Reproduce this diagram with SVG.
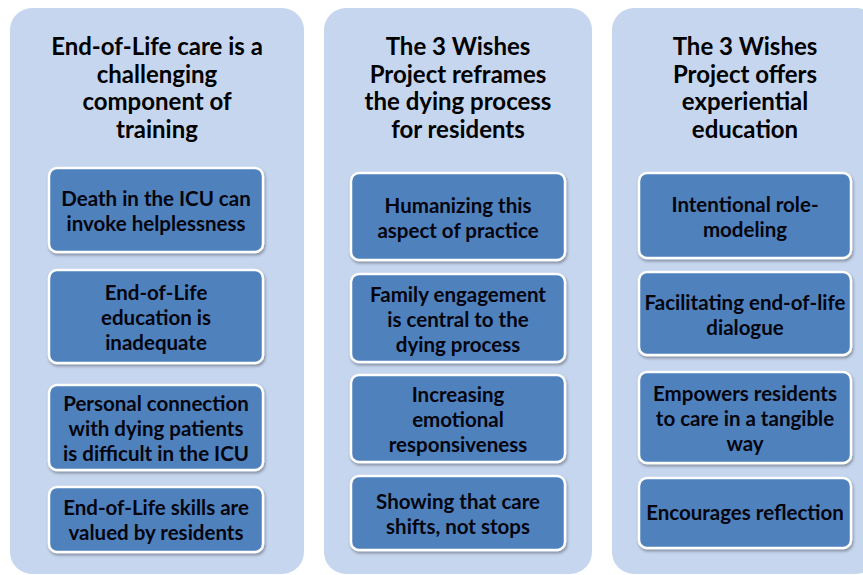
<svg xmlns="http://www.w3.org/2000/svg" width="863" height="575" viewBox="0 0 863 575">
<defs>
<filter id="sh" x="-10%" y="-10%" width="120%" height="130%">
<feDropShadow dx="1" dy="2" stdDeviation="1.5" flood-color="#000" flood-opacity="0.35"/>
</filter>
<style>
.col{fill:#C6D6EE}
.box{fill:#4F81BD;stroke:#fff;stroke-width:2.5;filter:url(#sh)}
.hd{font-family:Lato,"Open Sans","Liberation Sans",sans-serif;font-weight:bold;font-size:24px;fill:#000;text-anchor:middle}
.bt{font-family:Lato,"Open Sans","Liberation Sans",sans-serif;font-weight:bold;font-size:20.5px;fill:#05050f;text-anchor:middle}
</style>
</defs>
<rect width="863" height="575" fill="#fff"/>
<g id="col1">
<rect class="col" x="10" y="8" width="294" height="566" rx="22"/>
<text class="hd" x="157"><tspan x="157" y="55">End-of-Life care is a</tspan><tspan x="157" y="82.5">challenging</tspan><tspan x="157" y="110">component of</tspan><tspan x="157" y="137.5">training</tspan></text>
</g>
<g id="col2">
<rect class="col" x="324" y="8" width="268" height="566" rx="22"/>
<text class="hd" x="458"><tspan x="458" y="55">The 3 Wishes</tspan><tspan x="458" y="82.5">Project reframes</tspan><tspan x="458" y="110">the dying process</tspan><tspan x="458" y="137.5">for residents</tspan></text>
</g>
<g id="col3">
<rect class="col" x="612" y="8" width="266" height="566" rx="22"/>
<text class="hd" x="745"><tspan x="745" y="55">The 3 Wishes</tspan><tspan x="745" y="82.5">Project offers</tspan><tspan x="745" y="110">experiential</tspan><tspan x="745" y="137.5">education</tspan></text>
</g>
<g id="c1b1"><rect class="box" x="49" y="168" width="214" height="84" rx="8"/>
<text class="bt"><tspan x="156" y="206">Death in the ICU can</tspan><tspan x="156" y="231">invoke helplessness</tspan></text></g>
<g id="c1b2"><rect class="box" x="49" y="270" width="214" height="93" rx="8"/>
<text class="bt"><tspan x="156" y="299.5">End-of-Life</tspan><tspan x="156" y="324.5">education is</tspan><tspan x="156" y="349.5">inadequate</tspan></text></g>
<g id="c1b3"><rect class="box" x="49" y="385" width="214" height="85" rx="8"/>
<text class="bt"><tspan x="156" y="410.5">Personal connection</tspan><tspan x="156" y="435.5">with dying patients</tspan><tspan x="156" y="460.5">is difficult in the ICU</tspan></text></g>
<g id="c1b4"><rect class="box" x="49" y="487" width="214" height="65" rx="8"/>
<text class="bt"><tspan x="156" y="515">End-of-Life skills are</tspan><tspan x="156" y="540">valued by residents</tspan></text></g>
<g id="c2b1"><rect class="box" x="351" y="173" width="214" height="87" rx="8"/>
<text class="bt"><tspan x="458" y="212.5">Humanizing this</tspan><tspan x="458" y="237.5">aspect of practice</tspan></text></g>
<g id="c2b2"><rect class="box" x="351" y="274" width="214" height="88" rx="8"/>
<text class="bt"><tspan x="458" y="301.5">Family engagement</tspan><tspan x="458" y="326.5">is central to the</tspan><tspan x="458" y="351.5">dying process</tspan></text></g>
<g id="c2b3"><rect class="box" x="351" y="375" width="214" height="87" rx="8"/>
<text class="bt"><tspan x="458" y="402">Increasing</tspan><tspan x="458" y="427">emotional</tspan><tspan x="458" y="452">responsiveness</tspan></text></g>
<g id="c2b4"><rect class="box" x="351" y="476" width="214" height="74" rx="8"/>
<text class="bt"><tspan x="458" y="508.5">Showing that care</tspan><tspan x="458" y="533.5">shifts, not stops</tspan></text></g>
<g id="c3b1"><rect class="box" x="639" y="173" width="212" height="85" rx="8"/>
<text class="bt"><tspan x="745" y="211.5">Intentional role-</tspan><tspan x="745" y="236.5">modeling</tspan></text></g>
<g id="c3b2"><rect class="box" x="639" y="272" width="212" height="83" rx="8"/>
<text class="bt"><tspan x="745" y="309.5">Facilitating end-of-life</tspan><tspan x="745" y="334.5">dialogue</tspan></text></g>
<g id="c3b3"><rect class="box" x="639" y="372" width="212" height="91" rx="8"/>
<text class="bt"><tspan x="745" y="400.5">Empowers residents</tspan><tspan x="745" y="425.5">to care in a tangible</tspan><tspan x="745" y="450.5">way</tspan></text></g>
<g id="c3b4"><rect class="box" x="639" y="478" width="212" height="70" rx="8"/>
<text class="bt"><tspan x="745" y="520">Encourages reflection</tspan></text></g>
<g id="connectors"/>
</svg>
